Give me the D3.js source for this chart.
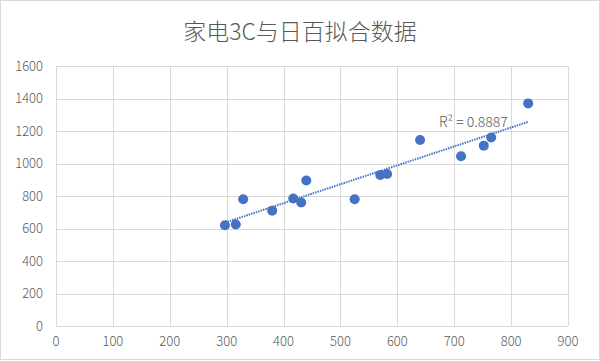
<!DOCTYPE html>
<html><head><meta charset="utf-8">
<script src="https://cdn.jsdelivr.net/npm/d3@7"></script>
<style>body{margin:0;background:#fff}svg{display:block}</style>
</head><body>
<script>
const title = "家电3C与日百拟合数据";
const xValues = [297, 316, 329, 380, 417, 431, 440, 525, 570, 582, 640, 712, 752, 765, 830];
const yValues = [620, 625, 780, 710, 785, 760, 895, 780, 930, 935, 1145, 1045, 1110, 1160, 1370];
const xTicks = [0,100,200,300,400,500,600,700,800,900];
const yTicks = [0,200,400,600,800,1000,1200,1400,1600];
const r2Label = "R² = 0.8887";

const W = 600, H = 361;
const svg = d3.select("body").append("svg").attr("width", W).attr("height", H);
svg.append("rect").attr("x",0.5).attr("y",0.5).attr("width",W-1).attr("height",H-2)
  .attr("fill","#fff").attr("stroke","#d9d9d9");

const x = d3.scaleLinear().domain([0,900]).range([56,568]);
const y = d3.scaleLinear().domain([0,1600]).range([326,66]);
const font = "'Noto Sans CJK SC', 'Noto Sans', sans-serif";

svg.append("text").attr("x",300).attr("y",40).attr("text-anchor","middle")
  .attr("font-family",font).attr("font-size",23).attr("font-weight",300).attr("fill","#595959").text(title);

// grid
svg.append("g").selectAll("line").data(yTicks).join("line")
  .attr("x1",x(0)).attr("x2",x(900)).attr("y1",d=>Math.round(y(d))+0.5).attr("y2",d=>Math.round(y(d))+0.5)
  .attr("stroke","#d9d9d9");
svg.append("g").selectAll("line").data(xTicks).join("line")
  .attr("y1",y(0)).attr("y2",y(1600)).attr("x1",d=>Math.round(x(d))+0.5).attr("x2",d=>Math.round(x(d))+0.5)
  .attr("stroke","#d9d9d9");

// tick labels
svg.append("g").selectAll("text").data(yTicks).join("text")
  .attr("x",43).attr("y",d=>y(d)+4.5).attr("text-anchor","end")
  .attr("font-family",font).attr("font-size",13).attr("font-weight",300).attr("fill","#595959").text(d=>d);
svg.append("g").selectAll("text").data(xTicks).join("text")
  .attr("x",d=>x(d)).attr("y",346).attr("text-anchor","middle")
  .attr("font-family",font).attr("font-size",13).attr("font-weight",300).attr("fill","#595959").text(d=>d);

// regression
const n = xValues.length;
const mx = d3.mean(xValues), my = d3.mean(yValues);
let sxy=0, sxx=0;
for (let i=0;i<n;i++){ sxy+=(xValues[i]-mx)*(yValues[i]-my); sxx+=(xValues[i]-mx)**2; }
const b = sxy/sxx, a = my - b*mx;
const [x0,x1] = d3.extent(xValues);

// points
svg.append("g").selectAll("circle").data(xValues).join("circle")
  .attr("cx",(d)=>x(d)).attr("cy",(d,i)=>y(yValues[i])).attr("r",5)
  .attr("fill","#4472C4");

svg.append("line").attr("x1",x(x0)).attr("y1",y(a+b*x0)).attr("x2",x(x1)).attr("y2",y(a+b*x1))
  .attr("stroke","#4472C4").attr("stroke-width",2).attr("stroke-dasharray","1.5,1");

svg.append("text").attr("x",439).attr("y",127)
  .attr("font-family",font).attr("font-size",14).attr("font-weight",300).attr("fill","#595959").text(r2Label);
</script>
</body></html>
